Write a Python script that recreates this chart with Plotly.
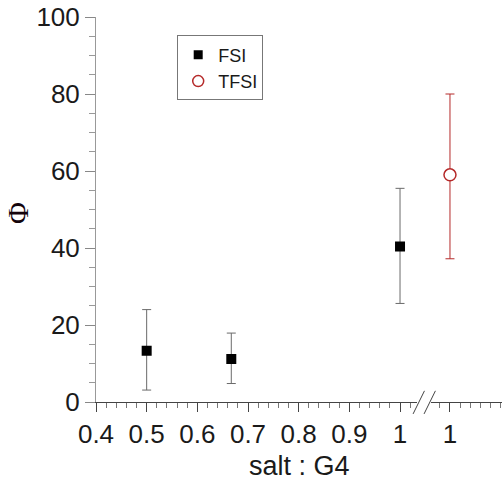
import plotly.graph_objects as go

# Data
fsi_x = [0.5, 0.667, 1.0]
fsi_y = [13.3, 11.2, 40.4]
fsi_err_plus = [10.7, 6.7, 15.1]
fsi_err_minus = [10.2, 6.4, 14.8]

tfsi_x = [1.0]
tfsi_y = [59.0]
tfsi_err_plus = [21.0]
tfsi_err_minus = [21.8]

x1_ticks = [0.4, 0.5, 0.6, 0.7, 0.8, 0.9, 1.0]
x1_labels = ["0.4", "0.5", "0.6", "0.7", "0.8", "0.9", "1"]
x2_ticks = [1.0]
x2_labels = ["1"]
y_ticks = [0, 20, 40, 60, 80, 100]

FONT = "Liberation Sans, Arial, sans-serif"
FSI_COLOR = "black"
FSI_ERR = "#6a6a6a"
TFSI_COLOR = "#b52a2a"

fig = go.Figure()

fig.add_trace(go.Scatter(
    x=fsi_x, y=fsi_y, mode="markers", xaxis="x", yaxis="y", showlegend=False,
    marker=dict(symbol="square", size=10, color=FSI_COLOR),
    error_y=dict(type="data", symmetric=False, array=fsi_err_plus,
                 arrayminus=fsi_err_minus, color=FSI_ERR, thickness=1, width=4.5),
))
fig.add_trace(go.Scatter(
    x=tfsi_x, y=tfsi_y, mode="markers", xaxis="x2", yaxis="y", showlegend=False,
    marker=dict(symbol="circle", size=12, color="white",
                line=dict(color=TFSI_COLOR, width=1.5)),
    error_y=dict(type="data", symmetric=False, array=tfsi_err_plus,
                 arrayminus=tfsi_err_minus, color=TFSI_COLOR, thickness=1, width=4.5),
))
# legend entries
fig.add_trace(go.Scatter(x=[None], y=[None], mode="markers", name="FSI",
                         marker=dict(symbol="square", size=9, color=FSI_COLOR)))
fig.add_trace(go.Scatter(x=[None], y=[None], mode="markers", name="TFSI",
                         marker=dict(symbol="circle", size=11, color="white",
                                     line=dict(color=TFSI_COLOR, width=1.5))))

tickfont = dict(family=FONT, size=26, color="#1a1a1a")

fig.update_layout(
    width=504, height=481,
    margin=dict(l=96, r=2, t=17, b=79),
    paper_bgcolor="white", plot_bgcolor="white",
    xaxis=dict(domain=[0, 0.79], range=[0.4, 1.033], showgrid=False, zeroline=False,
               showline=True, linecolor="#444", linewidth=1, automargin=False,
               tickvals=x1_ticks, ticktext=x1_labels, ticks="outside", ticklen=9,
               tickcolor="#444", tickfont=tickfont, anchor="y",
               ticklabeloverflow="allow",
               minor=dict(dtick=0.02, tick0=0.4, ticks="outside", ticklen=5, tickcolor="#777")),
    xaxis2=dict(domain=[0.826, 1], range=[0.9635, 1.102], showgrid=False, zeroline=False,
                showline=True, linecolor="#444", linewidth=1, automargin=False,
                tickvals=x2_ticks, ticktext=x2_labels, ticks="outside", ticklen=9,
                tickcolor="#444", tickfont=tickfont, anchor="y",
                ticklabeloverflow="allow",
                minor=dict(dtick=0.02, tick0=0.0, ticks="outside", ticklen=5, tickcolor="#777")),
    yaxis=dict(range=[0, 100], showgrid=False, zeroline=False,
               showline=True, linecolor="#999", linewidth=1, automargin=False,
               tickvals=y_ticks, ticks="outside", ticklen=10, tickcolor="#888",
               tickfont=tickfont, ticklabeloverflow="allow",
               minor=dict(dtick=5, ticks="outside", ticklen=6, tickcolor="#999")),
    legend=dict(x=0.2, y=0.952, xanchor="left", yanchor="top",
                bgcolor="white", bordercolor="#777", borderwidth=1,
                font=dict(family=FONT, size=18, color="#1a1a1a"),
                itemwidth=30, tracegroupgap=0),
    showlegend=True,
)

# axis titles
fig.add_annotation(text="salt : G4", xref="paper", yref="paper", x=0.5, y=-0.166,
                   xanchor="center", yanchor="middle", showarrow=False,
                   font=dict(family=FONT, size=27, color="#1a1a1a"))
fig.add_annotation(text="Φ", xref="paper", yref="paper", x=-0.192, y=0.491,
                   xanchor="center", yanchor="middle", showarrow=False, textangle=-90,
                   font=dict(family="Liberation Serif, serif", size=30, color="#14040c"))

# axis break marks
for x0 in (0.781, 0.808):
    fig.add_shape(type="line", xref="paper", yref="paper",
                  x0=x0, y0=-0.031, x1=x0 + 0.028, y1=0.029,
                  line=dict(color="#444", width=1))

fig.write_html("out.html", config={"displayModeBar": False},
               post_script="document.body.style.margin='0';")
